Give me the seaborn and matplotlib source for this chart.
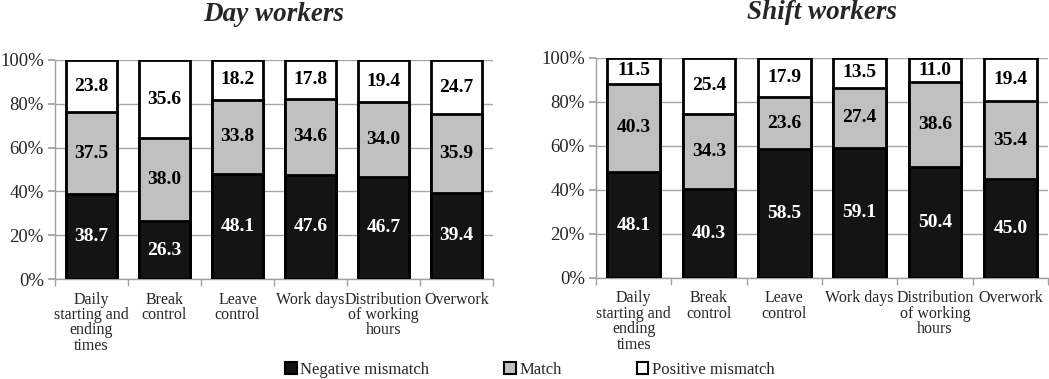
import matplotlib
matplotlib.use("Agg")
import matplotlib.pyplot as plt
import seaborn as sns
import numpy as np
import pandas as pd
from matplotlib.patches import Patch

categories = ["Daily\nstarting and\nending\ntimes", "Break\ncontrol", "Leave\ncontrol",
              "Work days", "Distribution\nof working\nhours", "Overwork"]
series_names = ["Negative mismatch", "Match", "Positive mismatch"]

day_negative = [38.7, 26.3, 48.1, 47.6, 46.7, 39.4]
day_match = [37.5, 38.0, 33.8, 34.6, 34.0, 35.9]
day_positive = [23.8, 35.6, 18.2, 17.8, 19.4, 24.7]

shift_negative = [48.1, 40.3, 58.5, 59.1, 50.4, 45.0]
shift_match = [40.3, 34.3, 23.6, 27.4, 38.6, 35.4]
shift_positive = [11.5, 25.4, 17.9, 13.5, 11.0, 19.4]

titles = ["Day workers", "Shift workers"]
yticks = [0, 20, 40, 60, 80, 100]
ytick_labels = ["0%", "20%", "40%", "60%", "80%", "100%"]

colors = ["#141414", "#c0c0c0", "#ffffff"]
text_colors = ["white", "black", "black"]

sns.set_theme(style="white")
plt.rcParams["font.family"] = ["Liberation Serif", "DejaVu Serif"]

fig = plt.figure(figsize=(10.49, 3.79), dpi=100)
ax_left = fig.add_axes([55 / 1049, 1 - 279 / 379, 438 / 1049, 219 / 379])
ax_right = fig.add_axes([596 / 1049, 1 - 278 / 379, 452 / 1049, 220 / 379])

datasets = [(day_negative, day_match, day_positive), (shift_negative, shift_match, shift_positive)]

for ax, data, title in zip([ax_left, ax_right], datasets, titles):
    neg, mat, pos = [np.array(d) for d in data]
    tops = [neg + mat + pos, neg + mat, neg]
    layer_colors = [colors[2], colors[1], colors[0]]
    for top, col in zip(tops, layer_colors):
        df = pd.DataFrame({"cat": categories, "val": top})
        sns.barplot(data=df, x="cat", y="val", color=col, width=0.7,
                    edgecolor="black", linewidth=2.0, saturation=1, ax=ax, zorder=3)
    bottoms = [np.zeros(6), neg, neg + mat]
    for vals, bot, tc in zip([neg, mat, pos], bottoms, text_colors):
        for i, (v, b) in enumerate(zip(vals, bot)):
            ax.text(i, b + v / 2, f"{v:.1f}", ha="center", va="center",
                    color=tc, fontsize=14, fontweight="bold", zorder=5)
    ax.set_ylim(0, 100)
    ax.set_xlim(-0.5, 5.5)
    ax.set_yticks(yticks)
    ax.set_yticklabels(ytick_labels, fontsize=13.5)
    ax.set_xticks(range(6))
    ax.set_xticklabels(categories, fontsize=11.5, linespacing=0.95, va="top")
    ax.set_xlabel("")
    ax.set_ylabel("")
    ax.yaxis.grid(True, color="#a6a6a6", linewidth=1.0, zorder=0)
    ax.set_axisbelow(True)
    for s in ["top", "right"]:
        ax.spines[s].set_visible(False)
    for s in ["left", "bottom"]:
        ax.spines[s].set_color("#a0a0a0")
        ax.spines[s].set_linewidth(1.0)
    ax.set_xticks(np.arange(-0.5, 6, 1), minor=True)
    ax.tick_params(axis="x", which="minor", length=5, color="#a0a0a0", bottom=True)
    ax.tick_params(axis="x", which="major", length=0, pad=9)
    ax.tick_params(axis="y", length=5, color="#a0a0a0", left=True, pad=3)
    ax.set_title(title, fontsize=19.5, fontweight="bold", fontstyle="italic", pad=28)

handles = [Patch(facecolor=c, edgecolor="black", linewidth=1.5, label=n) for c, n in zip(colors, series_names)]
fig.legend(handles=handles, loc="center", bbox_to_anchor=(0.505, 0.025), ncol=3, frameon=False,
           fontsize=12, handlelength=0.7, handleheight=0.7, handletextpad=0.2, columnspacing=4.5)

fig.savefig("out.png", dpi=100)
